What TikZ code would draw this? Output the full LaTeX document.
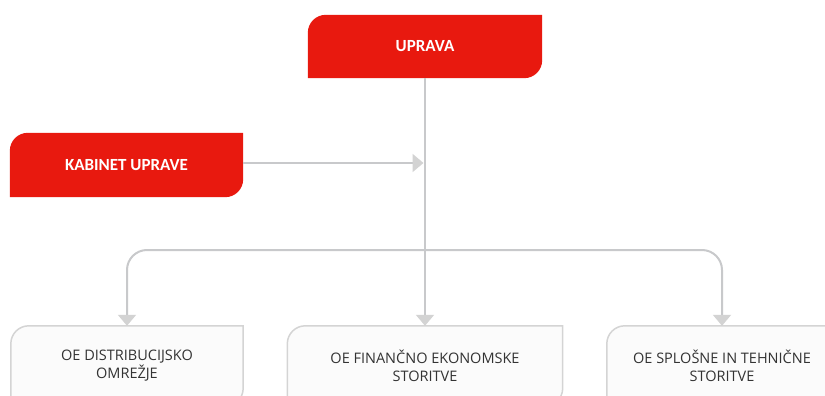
\documentclass[tikz,border=0pt]{standalone}
\usepackage{fontspec}
\setmainfont{Carlito}
\newfontfamily\osans{Open Sans}
\usetikzlibrary{arrows.meta,backgrounds}
\definecolor{redA}{HTML}{E8190F}
\definecolor{connC}{HTML}{C8C9CB}
\definecolor{tipC}{HTML}{D3D3D3}
\definecolor{bordC}{HTML}{D4D4D4}
\definecolor{bfillC}{HTML}{FBFBFB}
\definecolor{txtC}{HTML}{333333}
\newcommand\cornerbox[2]{%
  \path[#2] (#1.south west) -- ([yshift=-18pt]#1.north west)
    arc[start angle=180,end angle=90,radius=18pt] -- (#1.north east)
    -- ([yshift=18pt]#1.south east)
    arc[start angle=0,end angle=-90,radius=18pt] -- cycle;}
\tikzset{
  redtext/.style={inner sep=0pt, text=white, font=\fontsize{17}{20}\selectfont\bfseries, align=center},
  bottext/.style={inner sep=0pt, text=txtC, font=\osans\fontsize{14.5}{18}\selectfont, align=center},
  conn/.style={draw=connC, line width=2pt, -{Triangle[width=18pt,length=11pt,color=tipC]}},
}
\begin{document}
\begin{tikzpicture}[x=1pt,y=-1pt]
\useasboundingbox (0,0) rectangle (825,396);
\clip (0,0) rectangle (825,396);
\node[redtext, minimum width=234pt, minimum height=63pt] (upr) at (425,46.5) {UPRAVA};
\node[redtext, minimum width=233pt, minimum height=64pt] (kab) at (126.5,165) {KABINET UPRAVE};
\node[bottext, minimum width=232pt, minimum height=80pt] (b1) at (127,366) {OE DISTRIBUCIJSKO\\OMREŽJE};
\node[bottext, minimum width=275pt, minimum height=80pt] (b2) at (425,366) {OE FINANČNO EKONOMSKE\\STORITVE};
\node[bottext, minimum width=230pt, minimum height=80pt] (b3) at (722,366) {OE SPLOŠNE IN TEHNIČNE\\STORITVE};
\begin{scope}[on background layer]
  \cornerbox{upr}{fill=redA}
  \cornerbox{kab}{fill=redA}
  \cornerbox{b1}{fill=bfillC, draw=bordC, line width=1.5pt}
  \cornerbox{b2}{fill=bfillC, draw=bordC, line width=1.5pt}
  \cornerbox{b3}{fill=bfillC, draw=bordC, line width=1.5pt}
\end{scope}
\coordinate (j) at (upr.south |- 0,250);
\draw[conn] (upr.south) -- (b2.north);
\draw[conn, rounded corners=20pt] (j) -| (b1.north);
\draw[conn, rounded corners=20pt] (j) -| (b3.north);
\draw[conn, shorten >=1.5pt] ([yshift=2pt]kab.east) -- ([yshift=2pt]kab.east -| upr.south);
\end{tikzpicture}
\end{document}
